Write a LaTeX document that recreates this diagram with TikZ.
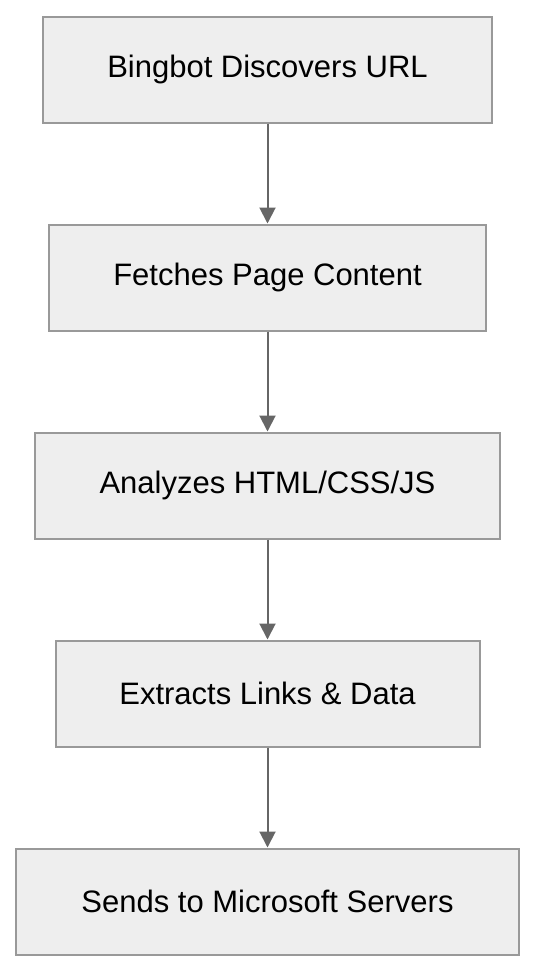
\documentclass[tikz,border=0pt]{standalone}
\usepackage{fontspec}
\setmainfont{Liberation Sans}
\usetikzlibrary{arrows.meta, positioning}

\definecolor{boxfill}{HTML}{EEEEEE}
\definecolor{boxline}{HTML}{999999}
\definecolor{arrowgray}{HTML}{666666}

\begin{document}
\begin{tikzpicture}[
    % Node styles
    stage/.style={
        rectangle,
        minimum width=#1, minimum height=106pt,
        text centered, font=\fontsize{31}{36}\selectfont,
        draw=boxline, line width=2pt,
        fill=boxfill,
    },
    stage/.default=440pt,
    line/.style={
        draw=arrowgray, line width=2pt, -{Triangle[length=16pt, width=16pt]},
    },
]
\useasboundingbox (0,0) rectangle (536pt,-972pt);

% === Pipeline stages ===
\node[stage=449pt] (discover) at (267.5pt,-69.5pt) {Bingbot Discovers URL};
\node[stage=437pt] (fetch)    [below=100pt of discover] {Fetches Page Content};
\node[stage=465pt] (analyze)  [below=100pt of fetch]    {Analyzes HTML/CSS/JS};
\node[stage=424pt] (extract)  [below=100pt of analyze]  {Extracts Links \& Data};
\node[stage=503pt] (send)     [below=100pt of extract]  {Sends to Microsoft Servers};

% === Edges ===
\draw[line] (discover.south) -- (fetch.north);
\draw[line] (fetch.south)    -- (analyze.north);
\draw[line] (analyze.south)  -- (extract.north);
\draw[line] (extract.south)  -- (send.north);

\end{tikzpicture}
\end{document}
